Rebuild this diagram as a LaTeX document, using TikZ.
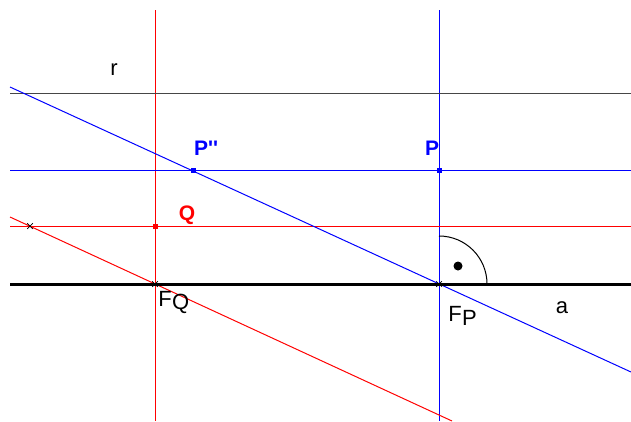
\documentclass[tikz,border=0pt]{standalone}
\usepackage{fontspec}
\setmainfont{Liberation Sans}
\usetikzlibrary{shapes.misc}
\definecolor{rgray}{RGB}{70,70,70}
\definecolor{pblue}{RGB}{0,0,255}
\definecolor{qred}{RGB}{255,0,0}

\begin{document}
\begin{tikzpicture}[x=1pt, y=-1pt,
        ln/.style={line width=1pt},
        lbl/.style={font=\fontsize{22}{22}\selectfont, inner sep=0pt},
        ptlbl/.style={font=\fontsize{21}{21}\selectfont\bfseries, inner sep=0pt},
        sq/.style={rectangle, minimum size=5pt, inner sep=0pt},
        xmark/.style={cross out, draw=black, line width=0.7pt, minimum size=5pt, inner sep=0pt}]
      \useasboundingbox (0,0) rectangle (631,421);
      % ends of the lines
      \coordinate (rL) at (10,93);   \coordinate (rR) at (631,93);
      \coordinate (hpL) at (10,170); \coordinate (hpR) at (631,170);
      \coordinate (hqL) at (10,226); \coordinate (hqR) at (631,226);
      \coordinate (vqT) at (155,10); \coordinate (vqB) at (155,421);
      \coordinate (vpT) at (439,10); \coordinate (vpB) at (439,421);
      \coordinate (spL) at (10,87);  \coordinate (spR) at (631,372);
      \coordinate (sqL) at (10,217); \coordinate (sqR) at (452,421);
      \coordinate (aL) at (10,284);  \coordinate (aR) at (631,284);
      % points
      \coordinate (fq) at (155,284);
      \coordinate (fp) at (439,284);
      \coordinate (p) at (439,170);
      \coordinate (pp) at (193,170);
      \coordinate (q) at (155,226);
      \coordinate (xq) at (30,226);
      % lines
      \draw[ln, qred] (vqT) -- (vqB);
      \draw[ln, pblue] (vpT) -- (vpB);
      \draw[ln, rgray] (rL) -- (rR);
      \draw[ln, pblue] (hpL) -- (hpR);
      \draw[ln, qred] (hqL) -- (hqR);
      \draw[ln, pblue] (spL) -- (spR);
      \draw[ln, qred] (sqL) -- (sqR);
      \draw[line width=3pt, black] (aL) -- (aR);
      % right angle
      \draw[ln, black] (fp) ++(48,0) arc[start angle=0, end angle=-90, radius=48];
      \fill[black] (458,266) circle (4.5pt);
      % marks
      \node[sq, fill=pblue] (mp) at (p) {};
      \node[sq, fill=pblue] (mpp) at (pp) {};
      \node[sq, fill=qred] (mq) at (q) {};
      \node[xmark] (mx) at (xq) {};
      \node[xmark] (mfq) at (fq) {};
      \node[xmark] (mfp) at (fp) {};
      % labels
      \node[lbl] (lr) at (114,70) {r};
      \node[lbl] (la) at (562,308) {a};
      \node[ptlbl, text=pblue] (lpp) at (206,148) {P\textquotesingle\textquotesingle};
      \node[ptlbl, text=pblue] (lp) at (432,148) {P};
      \node[ptlbl, text=qred] (lq) at (187,215) {Q};
      \node[lbl] (lfq) at (165,299) {F};
      \node[lbl, anchor=west] (lfq2) at (lfq.east) [yshift=-5pt] {Q};
      \node[lbl] (lfp) at (455,314) {F};
      \node[lbl, anchor=west] (lfp2) at (lfp.east) [yshift=-4pt] {P};
    \end{tikzpicture}
\end{document}
